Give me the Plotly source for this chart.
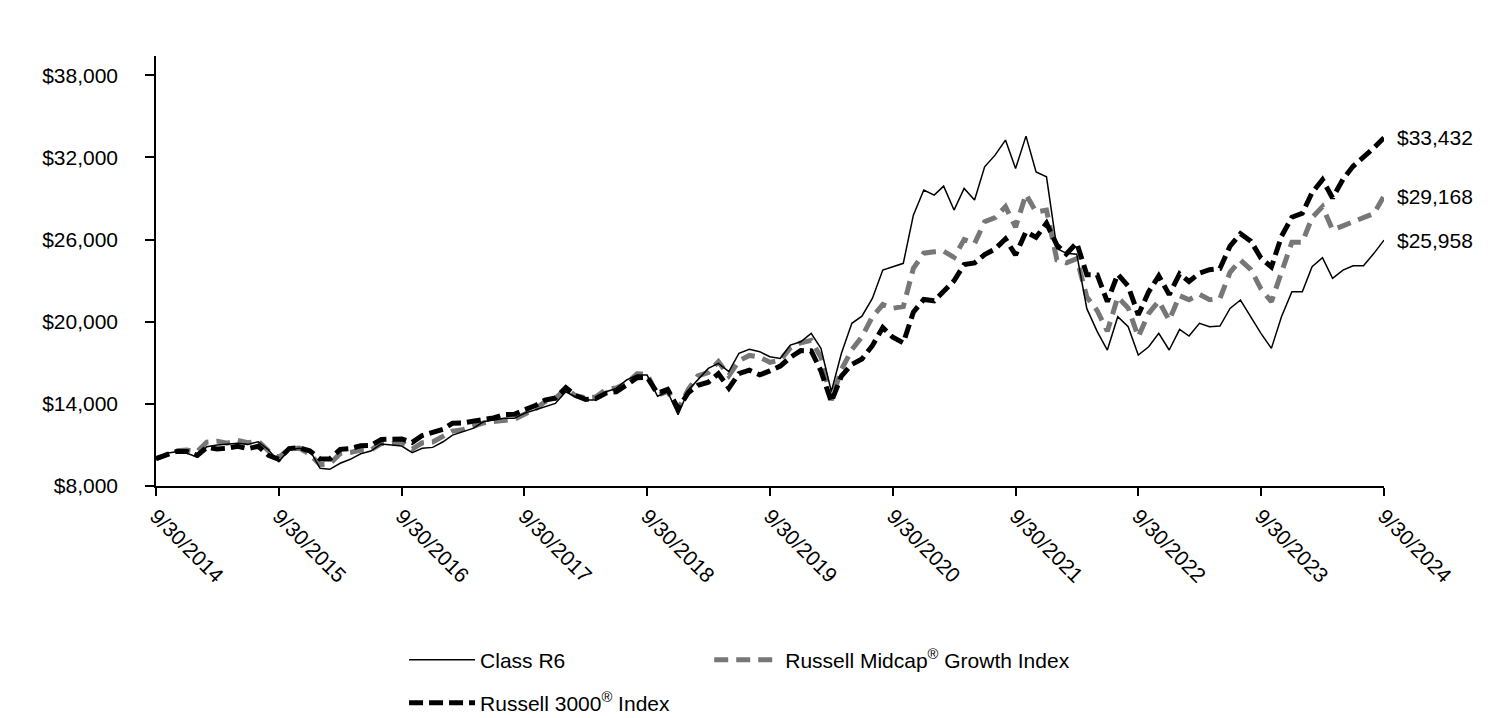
import calendar
import plotly.graph_objects as go


def month_ends(start_year, start_month, n):
    out = []
    y, m = start_year, start_month
    for _ in range(n):
        d = calendar.monthrange(y, m)[1]
        out.append(f"{y:04d}-{m:02d}-{d:02d}")
        m += 1
        if m > 12:
            m = 1
            y += 1
    return out


dates = month_ends(2014, 9, 121)

tick_dates = [f"{y}-09-30" for y in range(2014, 2025)]
tick_text = [f"9/30/{y}" for y in range(2014, 2025)]
y_ticks = [8000, 14000, 20000, 26000, 32000, 38000]
y_tick_text = [f"${v:,}" for v in y_ticks]

class_r6 = [
    10000, 10390, 10500, 10390, 10100, 10870, 11000, 11060, 11120, 11040, 11230, 10630, 9775,
    10630, 10750, 10630, 9290, 9220, 9660, 9950, 10350, 10550, 11070, 11000, 10920,
    10430, 10750, 10820, 11230, 11720, 11960, 12210, 12690, 12820, 12940, 12940, 13310,
    13550, 13790, 14030, 14880, 14520, 14280, 14280, 14880, 15130, 15740, 16100, 16100,
    14550, 14880, 13200, 15010, 15740, 16590, 16960, 16350, 17690, 17980, 17810, 17440,
    17320, 18290, 18530, 19150, 18050, 14900, 17690, 19880, 20400, 21700, 23770, 24010,
    24260, 27780, 29610, 29240, 29900, 28150, 29730, 28880, 31310, 32160, 33260, 31190,
    33550, 30940, 30580, 25350, 24990, 24930, 20950, 19270, 17930, 20360, 19630, 17560,
    18170, 19150, 17930, 19440, 18950, 19880, 19630, 19680, 20970, 21580, 20360, 19150,
    18050, 20360, 22180, 22180, 24010, 24670, 23160, 23770, 24080, 24080, 24990, 25958,
]

russell_midcap_growth = [
    10000, 10290, 10578, 10620, 10514, 11208, 11275, 11129, 11329, 11159, 11282, 10549, 10085,
    10690, 10765, 10335, 9550, 9617, 10380, 10445, 10630, 10640, 11100, 11080, 11210,
    10695, 11155, 11210, 11660, 12010, 12115, 12360, 12605, 12710, 12810, 12875, 13235,
    13605, 14150, 14400, 15100, 14600, 14450, 14500, 15050, 15150, 15500, 16200, 16150,
    14620, 14910, 13630, 15070, 16050, 16290, 17075, 16050, 17140, 17535, 17410, 17030,
    17200, 18080, 18460, 18640, 17400, 14270, 16500, 17950, 18900, 20350, 21250, 20980,
    21100, 23900, 25000, 25100, 25150, 24700, 26000, 25700, 27300, 27600, 28400, 26900,
    29300, 28000, 28150, 24500, 24300, 24600, 21800, 20800, 19300, 21800, 21000, 18900,
    20600, 21500, 20100, 21900, 21600, 22000, 21600, 21700, 23600, 24500, 23800, 22400,
    21450, 23600, 25800, 25800, 27600, 28400, 26700, 27000, 27300, 27600, 27900, 29168,
]

russell_3000 = [
    10000, 10275, 10524, 10522, 10229, 10821, 10711, 10759, 10906, 10724, 10903, 10245, 9947,
    10733, 10792, 10571, 9975, 9973, 10675, 10741, 10933, 10957, 11391, 11421, 11439,
    11183, 11686, 11914, 12138, 12589, 12598, 12730, 12854, 12970, 13212, 13237, 13560,
    13856, 14276, 14420, 15180, 14620, 14326, 14382, 14787, 14883, 15376, 15913, 15940,
    14767, 15062, 13660, 14832, 15354, 15584, 16200, 15148, 16211, 16453, 16117, 16402,
    16755, 17393, 17890, 17870, 16407, 14151, 16025, 16882, 17269, 18248, 19569, 18857,
    18448, 20695, 21622, 21527, 22194, 22987, 24173, 24289, 24896, 25309, 26041, 24872,
    26563, 26159, 27190, 25586, 24941, 25749, 23432, 23416, 21456, 23469, 22594, 20500,
    22181, 23343, 21975, 23487, 22935, 23547, 23797, 23883, 25514, 26427, 25877, 24645,
    23992, 26233, 27623, 27919, 29421, 30372, 29035, 30405, 31348, 32000, 32700, 33432,
]

FONT = "Liberation Sans, Arial, sans-serif"
FS = 21

fig = go.Figure()
fig.add_trace(go.Scatter(
    x=dates, y=russell_midcap_growth, mode="lines",
    name="Russell Midcap<sup>®</sup> Growth Index",
    line=dict(color="#777777", width=5, dash="14px,8px"),
    legend="legend3", hoverinfo="skip",
))
fig.add_trace(go.Scatter(
    x=dates, y=russell_3000, mode="lines",
    name="Russell 3000<sup>®</sup> Index",
    line=dict(color="#000000", width=5, dash="14px,6px"),
    legend="legend2", hoverinfo="skip",
))
fig.add_trace(go.Scatter(
    x=dates, y=class_r6, mode="lines",
    name="Class R6",
    line=dict(color="#000000", width=1.5),
    legend="legend", hoverinfo="skip",
))

for series in (russell_3000, russell_midcap_growth, class_r6):
    fig.add_annotation(
        x=dates[-1], y=series[-1], text=f"${series[-1]:,}",
        showarrow=False, xanchor="left", yanchor="middle", xshift=11,
        font=dict(family=FONT, size=FS, color="#000000"),
    )

legend_common = dict(
    orientation="h", xanchor="left", yanchor="middle",
    itemwidth=66,
    font=dict(family=FONT, size=FS, color="#000000"),
    bgcolor="rgba(0,0,0,0)",
)

# page body has an 8px default margin; compensate so the plot area sits at
# x 156..1384, y 56..486 in the 1512x718 window
fig.update_layout(
    width=1504, height=710,
    margin=dict(l=148, r=128, t=48, b=232, autoexpand=False),
    paper_bgcolor="white", plot_bgcolor="white",
    font=dict(family=FONT, size=FS, color="#000000"),
    showlegend=True,
    legend=dict(**legend_common, x=0.202, y=-0.405),
    legend3=dict(**legend_common, x=0.4505, y=-0.405),
    legend2=dict(**legend_common, x=0.202, y=-0.505),
    xaxis=dict(
        type="date", range=[dates[0], dates[-1]],
        tickvals=tick_dates, ticktext=tick_text, tickangle=45,
        ticks="outside", ticklen=8, tickcolor="#000000", tickwidth=1.5,
        showline=True, linecolor="#000000", linewidth=1.5,
        showgrid=False, zeroline=False, automargin=False,
        tickfont=dict(family=FONT, size=FS, color="#000000"),
    ),
    yaxis=dict(
        range=[8000, 39400], tickvals=y_ticks, ticktext=y_tick_text,
        ticks="outside", ticklen=9, tickcolor="#000000", tickwidth=1.5,
        showline=True, linecolor="#000000", linewidth=1.5,
        showgrid=False, zeroline=False, ticklabelstandoff=23, automargin=False,
        tickfont=dict(family=FONT, size=FS, color="#000000"),
    ),
)

fig.write_html("out.html")
